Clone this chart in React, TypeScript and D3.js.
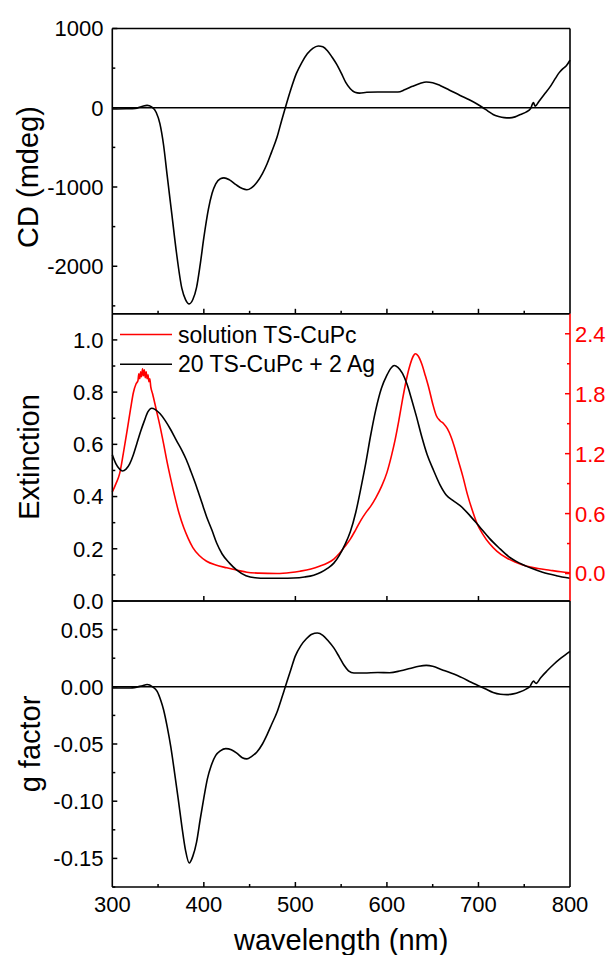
import React from "react";
import * as d3 from "d3";

// ---------- DATA ----------
const cdWl = [300,315,325,333,338,343,348,352,356,360,365,370,376,380,384,388,392,396,400,405,409,413,418,422,428,435,442,447,452,458,464,469,474,480,485,489,495,501,507,513,519,525,530,535,540,545,550,555,560,565,570,578,590,600,612,620,628,636,643,650,658,668,680,690,698,705,710,716,722,728,734,740,746,752,757,760,762,766,772,778,784,788,792,796,800];
const cdVal = [-15,-12,-8,20,30,10,-60,-200,-470,-860,-1340,-1820,-2280,-2420,-2475,-2420,-2270,-1980,-1640,-1280,-1080,-960,-895,-885,-910,-970,-1020,-1035,-1010,-940,-830,-710,-560,-370,-160,0,230,430,570,680,750,780,770,720,640,550,440,320,240,195,185,195,198,198,198,230,270,305,325,315,282,225,155,100,50,0,-40,-85,-110,-125,-128,-115,-85,-55,-10,65,20,80,170,260,370,440,490,530,600];

const extWl = [300,304,308,311,315,319,323,327,331,335,339,343,347,352,358,364,370,376,381,386,392,398,403,409,414,420,428,436,446,456,468,485,498,510,520,528,535,542,548,554,560,566,572,577,582,588,594,600,604,608,612,617,622,627,632,638,644,651,658,665,672,680,690,701,712,722,733,745,758,770,785,800];
const extVal = [0.56,0.525,0.505,0.498,0.505,0.525,0.56,0.605,0.65,0.69,0.725,0.738,0.733,0.718,0.69,0.655,0.615,0.577,0.54,0.495,0.438,0.375,0.323,0.27,0.222,0.18,0.145,0.118,0.097,0.089,0.087,0.087,0.088,0.092,0.099,0.11,0.125,0.145,0.175,0.215,0.265,0.34,0.44,0.53,0.63,0.735,0.815,0.865,0.89,0.902,0.895,0.872,0.83,0.772,0.71,0.63,0.56,0.5,0.445,0.405,0.385,0.365,0.33,0.285,0.24,0.205,0.17,0.145,0.125,0.11,0.097,0.087];

const solWl = [300,304,308,312,316,320,323,326,328,329,330,331,332,333,334,335,336,337,338,339,340,341,342,344,348,352,356,360,364,368,373,378,383,388,395,403,413,425,437,447,460,480,495,505,517,527,535,542,548,554,560,566,572,577,582,588,594,600,605,609,613,617,621,625,629,631,634,638,642,646,650,654,658,662,666,670,674,678,683,688,693,698,705,712,720,730,740,752,765,778,790,800];
const solVal = [0.816,0.9,1.0,1.2,1.42,1.65,1.81,1.9,1.93,2.0,1.95,2.02,1.97,2.05,1.98,2.04,1.96,2.02,1.95,1.99,1.92,1.95,1.87,1.8,1.64,1.48,1.3,1.11,0.94,0.78,0.6,0.46,0.35,0.26,0.18,0.123,0.085,0.057,0.032,0.013,0.004,0.0,0.01,0.023,0.045,0.075,0.105,0.145,0.2,0.27,0.345,0.44,0.54,0.61,0.67,0.76,0.87,1.01,1.18,1.34,1.53,1.74,1.93,2.08,2.18,2.2,2.18,2.1,1.98,1.85,1.7,1.58,1.53,1.5,1.45,1.37,1.26,1.13,0.97,0.79,0.64,0.51,0.39,0.3,0.225,0.16,0.115,0.075,0.05,0.033,0.018,0.008];

const gWl = [300,320,333,338,344,349,353,356,360,364,368,372,376,380,384,388,392,396,400,404,408,413,418,424,430,436,442,447,452,458,464,469,474,480,485,489,495,500,506,512,518,524,530,536,542,548,553,558,564,575,590,603,615,625,635,643,650,660,670,682,692,700,708,716,724,731,738,745,752,756,760,763,768,775,782,790,800];
const gVal = [-0.001,-0.001,0.001,0.002,0.0,-0.004,-0.012,-0.02,-0.035,-0.053,-0.075,-0.098,-0.122,-0.143,-0.154,-0.148,-0.136,-0.116,-0.097,-0.08,-0.069,-0.06,-0.056,-0.054,-0.055,-0.058,-0.062,-0.063,-0.061,-0.057,-0.05,-0.042,-0.033,-0.022,-0.01,0.0,0.015,0.027,0.036,0.042,0.046,0.047,0.045,0.04,0.034,0.026,0.019,0.014,0.012,0.012,0.0125,0.0123,0.014,0.016,0.018,0.0187,0.018,0.015,0.012,0.008,0.004,0.001,-0.002,-0.005,-0.0065,-0.0068,-0.0062,-0.0045,-0.002,0.0,0.005,0.003,0.008,0.014,0.0195,0.025,0.031];

const xTicks = [300, 400, 500, 600, 700, 800];
const xMinor = [350, 450, 550, 650, 750];
const cdTicks = [-2000, -1000, 0, 1000];
const cdMinor = [-2500, -1500, -500, 500];
const extTicks = [0.0, 0.2, 0.4, 0.6, 0.8, 1.0];
const extMinor = [0.1, 0.3, 0.5, 0.7, 0.9];
const solTicks = [0.0, 0.6, 1.2, 1.8, 2.4];
const solMinor = [0.3, 0.9, 1.5, 2.1];
const gTicks = [-0.15, -0.1, -0.05, 0.0, 0.05];
const gMinor = [-0.175, -0.125, -0.075, -0.025, 0.025];

const legendLabels = ["solution TS-CuPc", "20 TS-CuPc + 2 Ag"];

// ---------- LAYOUT ----------
const W = 613, H = 955;
const L = 112.3, R = 570;
const P1 = [28.5, 313.8];
const P2 = [313.8, 601];
const P3 = [601, 887];
const FONT = "'Liberation Sans', Arial, sans-serif";
const TICK_FS = 22;
const TITLE_FS = 29;

export default function App() {
  const x = d3.scaleLinear().domain([300, 800]).range([L, R]);
  const yCD = d3.scaleLinear().domain([-2600, 1000]).range([P1[1], P1[0]]);
  const yExt = d3.scaleLinear().domain([0, 1.1]).range([P2[1], P2[0]]);
  const ySol = d3.scaleLinear().domain([-0.275, 2.6]).range([P2[1], P2[0]]);
  const yG = d3.scaleLinear().domain([-0.175, 0.075]).range([P3[1], P3[0]]);

  const mk = (wl: number[], v: number[], y: any) =>
    d3.line<number>().x((d, i) => x(wl[i])).y((d) => y(d)).curve(d3.curveMonotoneX)(v) || "";

  const leftTicks = (y: any, ticks: number[], minor: number[], fmt: (v: number) => string) => (
    <g>
      {ticks.map((t) => (
        <g key={"t" + t}>
          <line x1={L} x2={L + 5} y1={y(t)} y2={y(t)} stroke="#000" strokeWidth={1.5} />
          <text x={103.5} y={y(t)} dy="0.36em" textAnchor="end" fontSize={TICK_FS} fontFamily={FONT} fill="#000">{fmt(t)}</text>
        </g>
      ))}
      {minor.map((t) => (
        <line key={"m" + t} x1={L} x2={L + 3} y1={y(t)} y2={y(t)} stroke="#000" strokeWidth={1.5} />
      ))}
    </g>
  );

  const bottomTicks = (yb: number, withMinor: boolean) => (
    <g>
      {xTicks.slice(1, -1).map((t) => (
        <line key={"bt" + t} x1={x(t)} x2={x(t)} y1={yb} y2={yb - 5} stroke="#000" strokeWidth={1.5} />
      ))}
      {withMinor && xMinor.map((t) => (
        <line key={"bm" + t} x1={x(t)} x2={x(t)} y1={yb} y2={yb - 3} stroke="#000" strokeWidth={1.5} />
      ))}
    </g>
  );

  const frame = (p: number[], rightColor = "#000") => (
    <g>
      <line x1={L} x2={R} y1={p[0]} y2={p[0]} stroke="#000" strokeWidth={1.6} />
      <line x1={L} x2={R} y1={p[1]} y2={p[1]} stroke="#000" strokeWidth={1.6} />
      <line x1={L} x2={L} y1={p[0]} y2={p[1]} stroke="#000" strokeWidth={1.6} />
      <line x1={R} x2={R} y1={p[0]} y2={p[1]} stroke={rightColor} strokeWidth={1.6} />
    </g>
  );

  return (
    <svg width={W} height={H} style={{ position: "absolute", left: 0, top: 0, background: "#fff" }}>
      <rect x={0} y={0} width={W} height={H} fill="#fff" />
      {/* Top panel: CD */}
      <line x1={L} x2={R} y1={yCD(0)} y2={yCD(0)} stroke="#000" strokeWidth={1.6} />
      <path d={mk(cdWl, cdVal, yCD)} fill="none" stroke="#000" strokeWidth={1.6} />
      {frame(P1)}
      {leftTicks(yCD, cdTicks, cdMinor, (v) => String(v))}
      {bottomTicks(P1[1], true)}
      <text transform={`translate(38,177) rotate(-90)`} textAnchor="middle" fontSize={TITLE_FS} fontFamily={FONT}>CD (mdeg)</text>

      {/* Middle panel: Extinction */}
      <path d={mk(solWl, solVal, ySol)} fill="none" stroke="#ff0000" strokeWidth={1.6} />
      <path d={mk(extWl, extVal, yExt)} fill="none" stroke="#000" strokeWidth={1.6} />
      {frame(P2, "#ff0000")}
      {leftTicks(yExt, extTicks, extMinor, (v) => v.toFixed(1))}
      {solTicks.map((t) => (
        <g key={"r" + t}>
          <line x1={R} x2={R - 5} y1={ySol(t)} y2={ySol(t)} stroke="#ff0000" strokeWidth={1.5} />
          <text x={575} y={ySol(t)} dy="0.36em" textAnchor="start" fontSize={TICK_FS} fontFamily={FONT} fill="#ff0000">{t.toFixed(1)}</text>
        </g>
      ))}
      {solMinor.map((t) => (
        <line key={"rm" + t} x1={R} x2={R - 3} y1={ySol(t)} y2={ySol(t)} stroke="#ff0000" strokeWidth={1.5} />
      ))}
      {bottomTicks(P2[1], false)}
      <text transform={`translate(39,457) rotate(-90)`} textAnchor="middle" fontSize={TITLE_FS} fontFamily={FONT}>Extinction</text>
      {/* Legend */}
      <line x1={120} x2={172} y1={334.5} y2={334.5} stroke="#ff0000" strokeWidth={1.6} />
      <text x={178} y={343} fontSize={23} fontFamily={FONT}>{legendLabels[0]}</text>
      <line x1={120} x2={172} y1={364.3} y2={364.3} stroke="#000" strokeWidth={1.6} />
      <text x={178} y={372} fontSize={23} fontFamily={FONT}>{legendLabels[1]}</text>

      {/* Bottom panel: g factor */}
      <line x1={L} x2={R} y1={yG(0)} y2={yG(0)} stroke="#000" strokeWidth={1.6} />
      <path d={mk(gWl, gVal, yG)} fill="none" stroke="#000" strokeWidth={1.6} />
      {frame(P3)}
      {leftTicks(yG, gTicks, gMinor, (v) => v.toFixed(2))}
      {bottomTicks(P3[1], true)}
      {xTicks.map((t) => (
        <text key={"xl" + t} x={x(t)} y={912} textAnchor="middle" fontSize={TICK_FS} fontFamily={FONT}>{t}</text>
      ))}
      <text transform={`translate(40,744) rotate(-90)`} textAnchor="middle" fontSize={TITLE_FS} fontFamily={FONT}>g factor</text>
      <text x={(L + R) / 2} y={950} textAnchor="middle" fontSize={TITLE_FS} fontFamily={FONT}>wavelength (nm)</text>
    </svg>
  );
}
